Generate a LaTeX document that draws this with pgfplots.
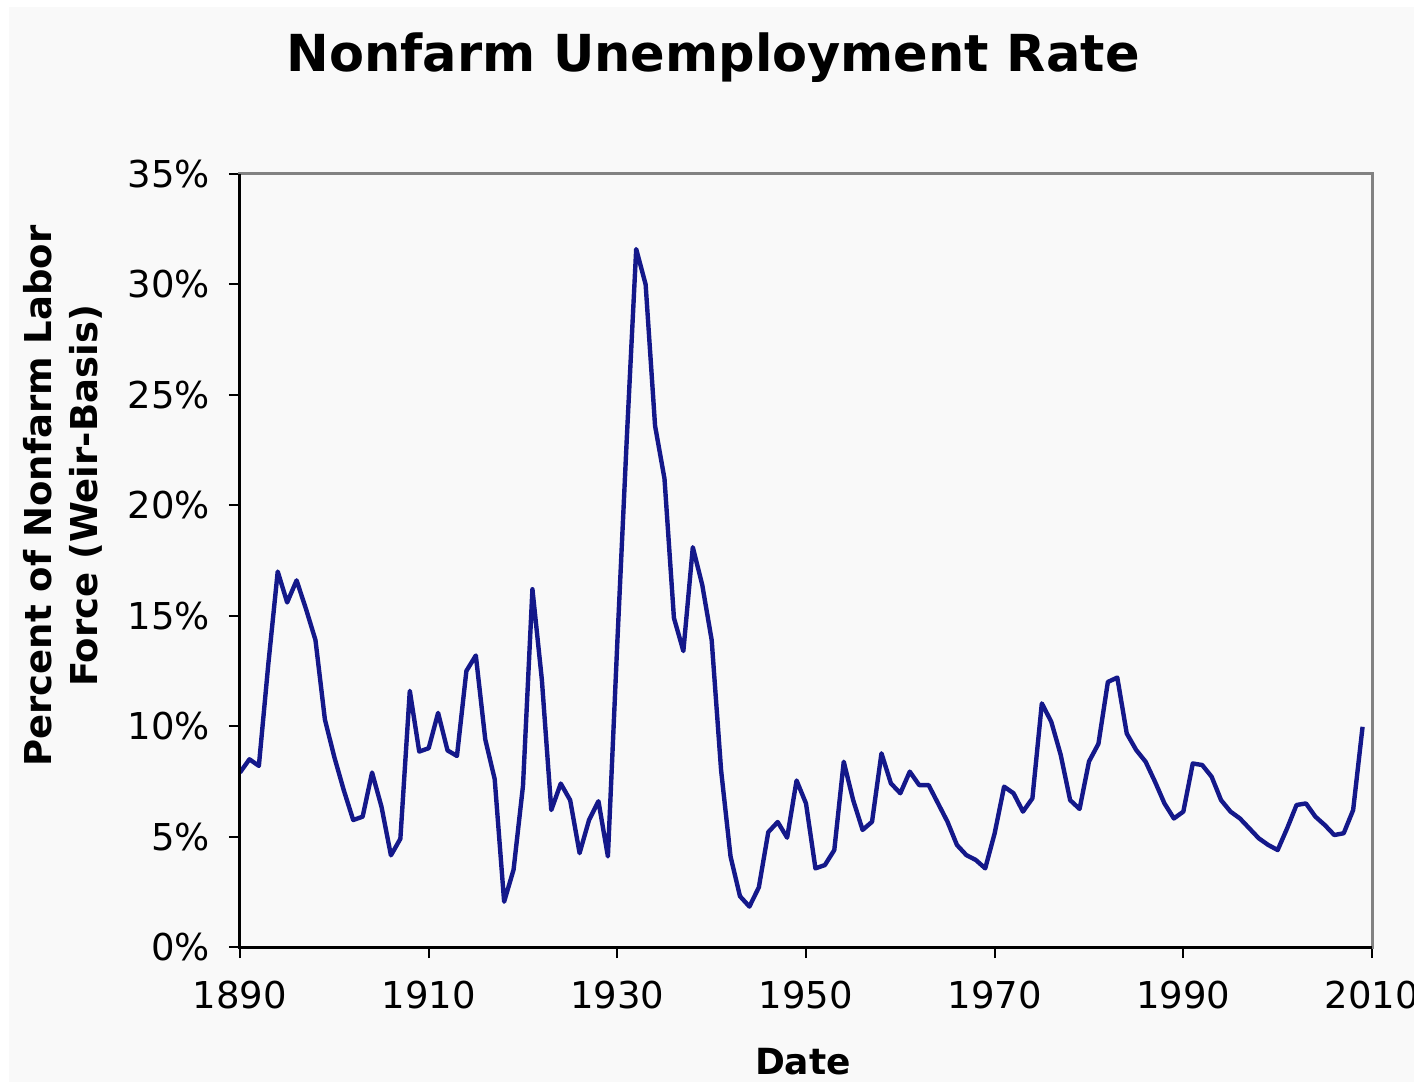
\documentclass[border=0pt]{standalone}
\usepackage{fontspec}
\setmainfont{DejaVu Sans}
\usepackage{pgfplots}
\pgfplotsset{compat=1.18}
\definecolor{bg}{RGB}{249,249,249}
\definecolor{navy}{RGB}{20,24,138}
\definecolor{framegray}{RGB}{130,130,130}
\pgfplotstableread{
year rate
1890 7.9
1891 8.5
1892 8.2
1893 12.8
1894 17.0
1895 15.6
1896 16.6
1897 15.3
1898 13.9
1899 10.3
1900 8.6
1901 7.1
1902 5.75
1903 5.9
1904 7.9
1905 6.35
1906 4.15
1907 4.9
1908 11.6
1909 8.85
1910 9.0
1911 10.6
1912 8.9
1913 8.65
1914 12.5
1915 13.2
1916 9.4
1917 7.6
1918 2.05
1919 3.5
1920 7.3
1921 16.2
1922 12.1
1923 6.2
1924 7.4
1925 6.65
1926 4.25
1927 5.75
1928 6.6
1929 4.1
1930 13.8
1931 23.0
1932 31.6
1933 30.0
1934 23.6
1935 21.2
1936 14.9
1937 13.4
1938 18.1
1939 16.4
1940 13.9
1941 8.0
1942 4.1
1943 2.3
1944 1.83
1945 2.7
1946 5.2
1947 5.66
1948 4.95
1949 7.54
1950 6.5
1951 3.56
1952 3.71
1953 4.39
1954 8.39
1955 6.65
1956 5.3
1957 5.67
1958 8.77
1959 7.41
1960 6.96
1961 7.94
1962 7.33
1963 7.33
1964 6.5
1965 5.67
1966 4.62
1967 4.16
1968 3.94
1969 3.56
1970 5.15
1971 7.26
1972 6.96
1973 6.13
1974 6.73
1975 11.03
1976 10.2
1977 8.7
1978 6.65
1979 6.25
1980 8.4
1981 9.2
1982 12.0
1983 12.2
1984 9.67
1985 8.92
1986 8.39
1987 7.48
1988 6.5
1989 5.82
1990 6.13
1991 8.31
1992 8.24
1993 7.71
1994 6.65
1995 6.13
1996 5.82
1997 5.37
1998 4.92
1999 4.62
2000 4.39
2001 5.37
2002 6.43
2003 6.5
2004 5.9
2005 5.52
2006 5.07
2007 5.15
2008 6.2
2009 9.97
}\ratedata
\begin{document}
\begin{tikzpicture}
\useasboundingbox (-120pt,-67.5pt) rectangle (587pt,473.5pt);
\fill[white] (-120pt,-67.5pt) rectangle (587pt,473.5pt);
\fill[bg] (-115.5pt,-67.5pt) rectangle (587pt,470pt);
\begin{axis}[
  at={(0,0)}, anchor=south west,
  width=566pt, height=386.5pt, scale only axis,
  xmin=1890, xmax=2010, ymin=0, ymax=35,
  xtick={1890,1910,...,2010}, ytick={0,5,...,35},
  tick align=outside, xtick pos=bottom, ytick pos=left,
  major tick length=5.5pt,
  tick style={black, line width=1pt},
  axis line style={framegray, line width=1.5pt},
  /pgf/number format/assume math mode=true,
  /pgf/number format/1000 sep={},
  ticklabel style={font=\fontsize{18.5}{22}\selectfont},
  yticklabel={\pgfmathprintnumber{\tick}\%},
  xticklabel style={yshift=-8pt},
  yticklabel style={xshift=-6pt},
  clip=false,
]
\addplot[navy, line width=2.2pt, line join=round] table[x=year, y=rate] {\ratedata};
\draw[black, line width=1.5pt] (rel axis cs:0,1) -- (rel axis cs:0,0) -- (rel axis cs:1,0);
\end{axis}
\node[font=\bfseries\fontsize{25.5}{30}\selectfont, anchor=base] at (236.5pt,437.5pt) {Nonfarm Unemployment Rate};
\node[font=\bfseries\fontsize{18}{22}\selectfont, anchor=base] at (281.5pt,-63.5pt) {Date};
\node[font=\bfseries\fontsize{18.5}{23}\selectfont, align=center, rotate=90] at (-88.5pt,225.5pt) {Percent of Nonfarm Labor\\Force (Weir-Basis)};
\end{tikzpicture}
\end{document}
